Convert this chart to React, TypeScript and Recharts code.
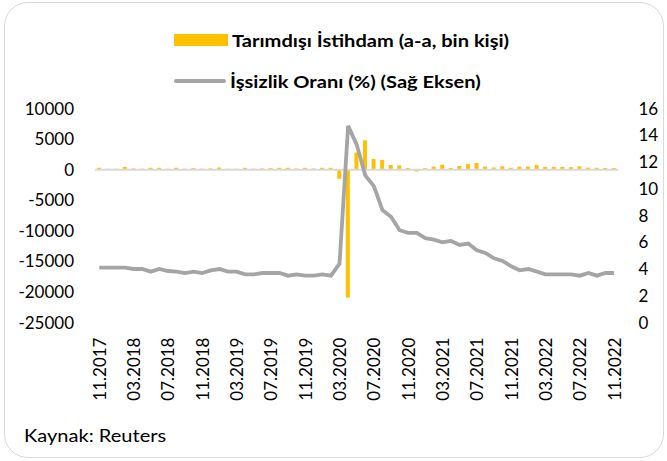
import React from 'react';
import { ComposedChart, Bar, Line, XAxis, YAxis, ReferenceLine } from 'recharts';

const months = [
  '11.2017', '12.2017', '01.2018', '02.2018', '03.2018', '04.2018', '05.2018', '06.2018', '07.2018', '08.2018', '09.2018', '10.2018',
  '11.2018', '12.2018', '01.2019', '02.2019', '03.2019', '04.2019', '05.2019', '06.2019', '07.2019', '08.2019', '09.2019', '10.2019',
  '11.2019', '12.2019', '01.2020', '02.2020', '03.2020', '04.2020', '05.2020', '06.2020', '07.2020', '08.2020', '09.2020', '10.2020',
  '11.2020', '12.2020', '01.2021', '02.2021', '03.2021', '04.2021', '05.2021', '06.2021', '07.2021', '08.2021', '09.2021', '10.2021',
  '11.2021', '12.2021', '01.2022', '02.2022', '03.2022', '04.2022', '05.2022', '06.2022', '07.2022', '08.2022', '09.2022', '10.2022',
  '11.2022',
];

// Tarımdışı istihdam, aylık değişim (bin kişi)
const payrolls = [
  300, 150, 150, 450, 200, 150, 300, 300, 150, 300, 150, 250,
  150, 200, 350, 150, 150, 300, 150, 200, 250, 300, 300, 200,
  300, 200, 300, 300, -1500, -20900, 2800, 4800, 1750, 1600, 750, 700,
  280, -300, 250, 500, 800, 280, 600, 900, 1100, 500, 350, 550,
  300, 500, 500, 750, 450, 450, 450, 400, 550, 330, 300, 280,
  280,
];

// İşsizlik oranı (%)
const unemployment = [
  4.1, 4.1, 4.1, 4.1, 4.0, 4.0, 3.8, 4.0, 3.85, 3.8, 3.7, 3.8,
  3.7, 3.9, 4.0, 3.8, 3.8, 3.6, 3.6, 3.7, 3.7, 3.7, 3.5, 3.6,
  3.5, 3.5, 3.6, 3.5, 4.4, 14.7, 13.3, 11.0, 10.2, 8.4, 7.9, 6.9,
  6.7, 6.7, 6.3, 6.2, 6.0, 6.1, 5.8, 5.9, 5.4, 5.2, 4.8, 4.6,
  4.2, 3.9, 4.0, 3.8, 3.6, 3.6, 3.6, 3.6, 3.5, 3.7, 3.5, 3.7,
  3.7,
];

const leftTicks = [-25000, -20000, -15000, -10000, -5000, 0, 5000, 10000];
const rightTicks = [0, 2, 4, 6, 8, 10, 12, 14, 16];

const barName = 'Tarımdışı İstihdam (a-a, bin kişi)';
const lineName = 'İşsizlik Oranı (%) (Sağ Eksen)';
const source = 'Kaynak: Reuters';

const data = months.map((m, i) => ({ month: m, payrolls: payrolls[i], rate: unemployment[i] }));

const FONT = 'Lato, "Open Sans", sans-serif';
const tickStyle = { fill: '#000', fontSize: 17, fontFamily: FONT };
// the original text is a little wider than Lato, stretch it horizontally
const wide = { display: 'inline-block', transform: 'scaleX(1.18)', transformOrigin: 'left center', whiteSpace: 'nowrap' as const };

function XTick({ x, y, payload }: any) {
  return (
    <text
      x={x}
      y={y}
      transform={`rotate(-90 ${x} ${y})`}
      textAnchor="end"
      dominantBaseline="central"
      fill="#000"
      fontSize={17}
      fontFamily={FONT}
    >
      {payload.value}
    </text>
  );
}

export default function App() {
  return (
    <div style={{ position: 'fixed', left: 0, top: 0, width: 667, height: 461, background: '#fff', fontFamily: FONT }}>
      <div
        style={{
          position: 'absolute', left: 4, top: 2, width: 658, height: 454,
          border: '1.5px solid #D9D9D9', borderRadius: 24,
        }}
      />
      <ComposedChart
        width={667}
        height={461}
        data={data}
        margin={{ top: 108.5, right: 0, bottom: 58.5, left: 0 }}
        style={{ position: 'absolute', left: 0, top: 0 }}
      >
        <XAxis
          dataKey="month"
          interval={3}
          axisLine={false}
          tickLine={false}
          tickSize={0}
          tickMargin={15}
          height={80}
          tick={<XTick />}
        />
        <YAxis
          yAxisId="left"
          domain={[-25000, 10000]}
          ticks={leftTicks}
          axisLine={false}
          tickLine={false}
          tickSize={0}
          tickMargin={21}
          width={95}
          tick={tickStyle}
        />
        <YAxis
          yAxisId="right"
          orientation="right"
          domain={[0, 16]}
          ticks={rightTicks}
          axisLine={false}
          tickLine={false}
          tickSize={0}
          tickMargin={20}
          width={48.6}
          tick={{ ...tickStyle, textAnchor: 'start' }}
        />
        <ReferenceLine yAxisId="left" y={0} stroke="#D9D9D9" strokeWidth={2} />
        <Bar yAxisId="left" dataKey="payrolls" name={barName} fill="#FFC000" barSize={4} isAnimationActive={false} />
        <Line
          yAxisId="right"
          type="linear"
          dataKey="rate"
          name={lineName}
          stroke="#A5A5A5"
          strokeWidth={3.8}
          dot={false}
          isAnimationActive={false}
        />
      </ComposedChart>
      <div style={{ position: 'absolute', left: 174, top: 28, height: 24, display: 'flex', alignItems: 'center' }}>
        <div style={{ width: 54, height: 12, background: '#FFC000', marginRight: 4 }} />
        <span style={{ ...wide, fontWeight: 700, fontSize: 17, color: '#000' }}>{barName}</span>
      </div>
      <div style={{ position: 'absolute', left: 174, top: 69, height: 24, display: 'flex', alignItems: 'center' }}>
        <div style={{ width: 52, height: 4, background: '#A5A5A5', borderRadius: 2, marginRight: 4 }} />
        <span style={{ ...wide, fontWeight: 700, fontSize: 17, color: '#000' }}>{lineName}</span>
      </div>
      <div style={{ position: 'absolute', left: 24, top: 425, fontSize: 17, color: '#000' }}>
        <span style={wide}>{source}</span>
      </div>
    </div>
  );
}
